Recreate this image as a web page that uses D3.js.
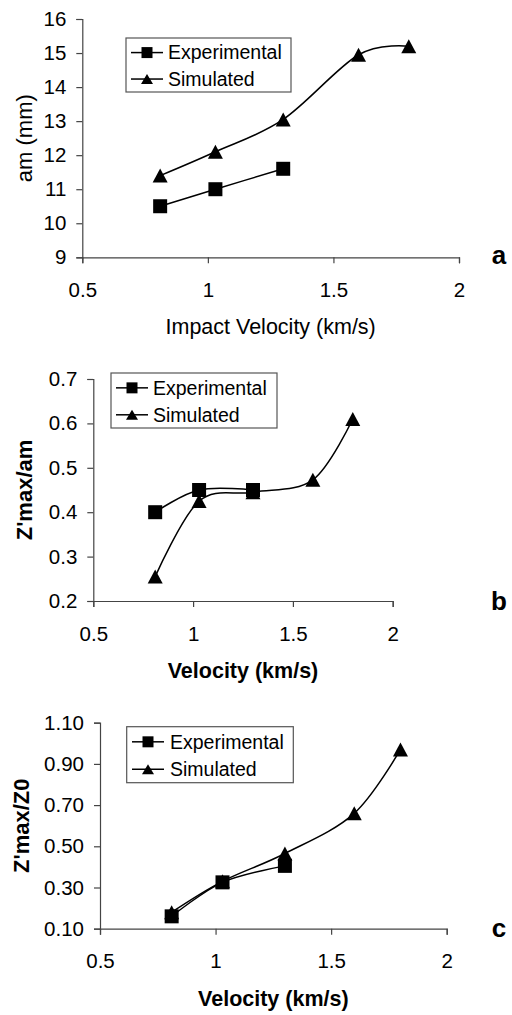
<!DOCTYPE html>
<html>
<head>
<meta charset="utf-8">
<script src="https://cdn.jsdelivr.net/npm/d3@7"></script>
<style>
  body { margin: 0; background: #fff; }
  svg { display: block; font-family: "Liberation Sans", Arial, sans-serif; }
</style>
</head>
<body>
<div id="chart"></div>
<script>
// velocities (km/s)
var velExp = [0.81, 1.03, 1.3];
var velSim = [0.81, 1.03, 1.3, 1.6, 1.8];

// panel a: am (mm)
var amExp = [10.5, 11.0, 11.6];
var amSim = [11.4, 12.1, 13.05, 14.95, 15.2];

// panel b: Z'max/am
var zamExp = [0.40, 0.45, 0.45];
var zamSim = [0.255, 0.425, 0.445, 0.473, 0.61];

// panel c: Z'max/Z0
var zz0Exp = [0.16, 0.325, 0.405];
var zz0Sim = [0.18, 0.33, 0.465, 0.66, 0.97];

var xTicks = [0.5, 1, 1.5, 2];
var yTicksA = [9, 10, 11, 12, 13, 14, 15, 16];
var yTicksB = [0.2, 0.3, 0.4, 0.5, 0.6, 0.7];
var yTicksC = [0.10, 0.30, 0.50, 0.70, 0.90, 1.10];

var seriesNames = ["Experimental", "Simulated"];

var svg = d3.select("#chart").append("svg")
  .attr("width", 512)
  .attr("height", 1015);

var panels = [
  { exp: amExp, sim: amSim, yTicks: yTicksA, yFmt: d3.format("d"),
    x0: 82.3, x1: 459, yTop: 19, yBot: 257.3,
    yTitle: "am (mm)", yTitleX: 24, xTitle: "Impact Velocity (km/s)", bold: false,
    letter: "a", letterY: 264,
    leg: { x: 126, y: 38, w: 165, h: 54, lx0: 131, lx1: 163, tx: 168 } },
  { exp: zamExp, sim: zamSim, yTicks: yTicksB, yFmt: d3.format(".1f"),
    x0: 93.3, x1: 392.7, yTop: 379, yBot: 601,
    yTitle: "Z'max/am", yTitleX: 24, xTitle: "Velocity (km/s)", bold: true,
    letter: "b", letterY: 610,
    leg: { x: 111, y: 373, w: 166, h: 55, lx0: 116, lx1: 148, tx: 153 } },
  { exp: zz0Exp, sim: zz0Sim, yTicks: yTicksC, yFmt: d3.format(".2f"),
    x0: 100, x1: 446.7, yTop: 722.7, yBot: 928.7,
    yTitle: "Z'max/Z0", yTitleX: 21, xTitle: "Velocity (km/s)", bold: true,
    letter: "c", letterY: 937,
    leg: { x: 126.7, y: 726.7, w: 166.6, h: 56, lx0: 132, lx1: 164, tx: 170 } }
];

function squarePath(s) {
  return "M" + (-s / 2) + "," + (-s / 2) + "h" + s + "v" + s + "h" + (-s) + "Z";
}
function trianglePath(w, h) {
  return "M0," + (-h / 2) + "L" + (w / 2) + "," + (h / 2) + "L" + (-w / 2) + "," + (h / 2) + "Z";
}

panels.forEach(function(p) {
  var x = d3.scaleLinear().domain([0.5, 2]).range([p.x0, p.x1]);
  var y = d3.scaleLinear().domain([p.yTicks[0], p.yTicks[p.yTicks.length - 1]]).range([p.yBot, p.yTop]);

  var g = svg.append("g");

  // axes
  var yAxis = g.append("g")
    .attr("transform", "translate(" + p.x0 + ",0)")
    .call(d3.axisLeft(y).tickValues(p.yTicks).tickFormat(p.yFmt).tickSizeOuter(0).tickSize(6).tickPadding(10));
  var xAxis = g.append("g")
    .attr("transform", "translate(0," + p.yBot + ")")
    .call(d3.axisBottom(x).tickValues(xTicks).tickFormat(d3.format("")).tickSizeOuter(0).tickSize(6).tickPadding(19));
  [yAxis, xAxis].forEach(function(a) {
    a.select(".domain").attr("stroke", "#444").attr("stroke-width", 1.2);
    a.selectAll(".tick line").attr("stroke", "#444").attr("stroke-width", 1.2);
    a.selectAll(".tick text").attr("fill", "#000").style("font-size", "20.5px");
  });

  // titles
  g.append("text")
    .attr("transform", "translate(" + p.yTitleX + "," + ((p.yTop + p.yBot) / 2) + ") rotate(-90)")
    .attr("text-anchor", "middle")
    .attr("dy", "0.35em")
    .style("font-size", "22px")
    .style("font-weight", p.bold ? "bold" : "normal")
    .text(p.yTitle);

  g.append("text")
    .attr("x", (p.x0 + p.x1) / 2)
    .attr("y", p.yBot + 77)
    .attr("text-anchor", "middle")
    .style("font-size", "21.5px")
    .style("font-weight", p.bold ? "bold" : "normal")
    .text(p.xTitle);

  g.append("text")
    .attr("x", 499)
    .attr("y", p.letterY)
    .attr("text-anchor", "middle")
    .style("font-size", "26px")
    .style("font-weight", "bold")
    .text(p.letter);

  // lines
  var line = d3.line()
    .x(function(d) { return x(d[0]); })
    .y(function(d) { return y(d[1]); })
    .curve(d3.curveCardinal.tension(0));

  var expPts = velExp.map(function(v, i) { return [v, p.exp[i]]; });
  var simPts = velSim.map(function(v, i) { return [v, p.sim[i]]; });

  g.append("path").datum(simPts).attr("d", line)
    .attr("fill", "none").attr("stroke", "#000").attr("stroke-width", 1.5);
  g.append("path").datum(expPts).attr("d", line)
    .attr("fill", "none").attr("stroke", "#000").attr("stroke-width", 1.5);

  g.selectAll(".sq").data(expPts).enter().append("path")
    .attr("transform", function(d) { return "translate(" + x(d[0]) + "," + y(d[1]) + ")"; })
    .attr("d", squarePath(14))
    .attr("fill", "#000");

  g.selectAll(".tri").data(simPts).enter().append("path")
    .attr("transform", function(d) { return "translate(" + x(d[0]) + "," + y(d[1]) + ")"; })
    .attr("d", trianglePath(15, 14))
    .attr("fill", "#000");

  // legend
  var L = p.leg;
  var leg = g.append("g");
  leg.append("rect")
    .attr("x", L.x).attr("y", L.y).attr("width", L.w).attr("height", L.h)
    .attr("fill", "#fff").attr("stroke", "#555").attr("stroke-width", 1.2);
  seriesNames.forEach(function(name, i) {
    var ry = L.y + L.h * (i === 0 ? 0.27 : 0.76);
    var mx = (L.lx0 + L.lx1) / 2;
    leg.append("line")
      .attr("x1", L.lx0).attr("x2", L.lx1).attr("y1", ry).attr("y2", ry)
      .attr("stroke", "#000").attr("stroke-width", 1.5);
    leg.append("path")
      .attr("transform", "translate(" + mx + "," + ry + ")")
      .attr("d", i === 0 ? squarePath(11) : trianglePath(12, 10))
      .attr("fill", "#000");
    leg.append("text")
      .attr("x", L.tx).attr("y", ry)
      .attr("dy", "0.35em")
      .style("font-size", "19.5px")
      .text(name);
  });
});
</script>
</body>
</html>
